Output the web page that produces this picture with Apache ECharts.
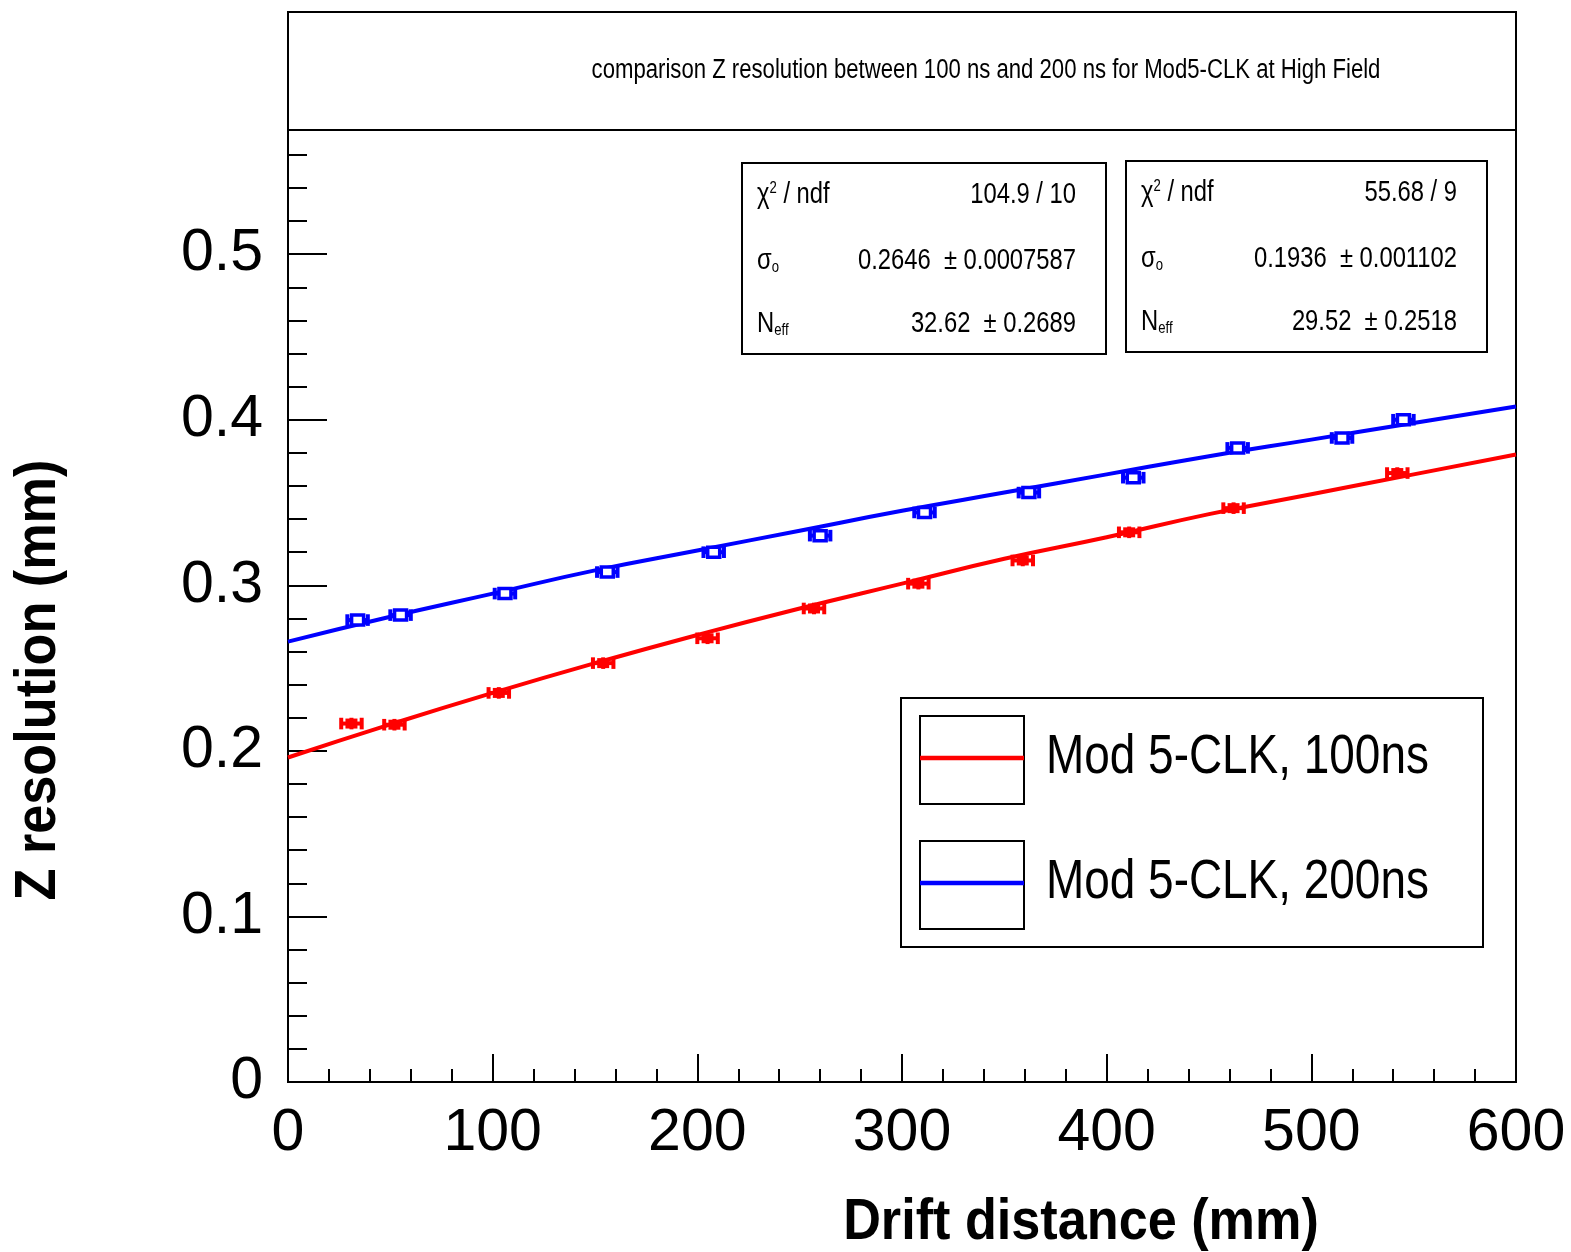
<!DOCTYPE html>
<html><head><meta charset="utf-8">
<script src="https://cdn.jsdelivr.net/npm/echarts@6/dist/echarts.min.js"></script>
<style>html,body{margin:0;padding:0;background:#fff}#c{width:1571px;height:1252px}</style>
</head><body><div id="c"></div>
<script>
// ---------- data ----------
const titleText = 'comparison Z resolution between 100 ns and 200 ns for Mod5-CLK at High Field';
const xAxisTitle = 'Drift distance (mm)';
const yAxisTitle = 'Z resolution (mm)';
const seriesNames = ['Mod 5-CLK, 100ns', 'Mod 5-CLK, 200ns'];
const xTickLabels = ['0', '100', '200', '300', '400', '500', '600'];
const yTickLabels = ['0', '0.1', '0.2', '0.3', '0.4', '0.5'];

// 100 ns (red) measured points
const redX    = [31, 52, 103, 154, 205, 257, 308, 359, 411, 462, 542];
const redY    = [0.2165, 0.2158, 0.2350, 0.2530, 0.2680, 0.2860, 0.3010, 0.3150, 0.3320, 0.3466, 0.3678];
const redXErr = [5, 5, 5, 5, 5, 5, 5, 5, 5, 5, 5];
const redYErr = [0.0035, 0.0035, 0.0035, 0.0035, 0.0035, 0.0035, 0.0035, 0.0035, 0.0035, 0.0035, 0.0035];

// 200 ns (blue) measured points
const blueX    = [34, 55, 106, 156, 208, 260, 311, 362, 413, 464, 515, 545];
const blueY    = [0.2790, 0.2820, 0.2950, 0.3080, 0.3200, 0.3300, 0.3440, 0.3560, 0.3650, 0.3830, 0.3890, 0.4000];
const blueXErr = [5, 5, 5, 5, 5, 5, 5, 5, 5, 5, 5, 5];
const blueYErr = [0.0035, 0.0035, 0.0035, 0.0035, 0.0035, 0.0035, 0.0035, 0.0035, 0.0035, 0.0035, 0.0035, 0.0035];

// fit curves
const fitX    = [0, 50, 100, 150, 200, 250, 300, 350, 400, 450, 500, 550, 600];
const redFit  = [0.196, 0.216, 0.235, 0.253, 0.270, 0.286, 0.301, 0.316, 0.329, 0.343, 0.355, 0.367, 0.379];
const blueFit = [0.266, 0.281, 0.295, 0.309, 0.321, 0.333, 0.345, 0.356, 0.367, 0.378, 0.388, 0.398, 0.408];

// fit statistics boxes
const statsBlue = ['104.9 / 10', '0.2646  \u00b1 0.0007587', '32.62  \u00b1 0.2689'];
const statsRed  = ['55.68 / 9', '0.1936  \u00b1 0.001102', '29.52  \u00b1 0.2518'];

// ---------- chart ----------
const FONT = "'Liberation Sans',Arial,Helvetica,sans-serif";
const NARROW = 0.82;
const RED = '#ff0000', BLUE = '#0000ff';

function pts(xs, ys, exs, eys) { return xs.map((x, i) => [x, ys[i], exs[i], eys[i]]); }
function curve(xs, ys) { return xs.map((x, i) => [x, ys[i]]); }

function errRender(color, hollow) {
  return function (params, api) {
    const x = api.value(0), y = api.value(1), ex = api.value(2), ey = api.value(3);
    const c = api.coord([x, y]);
    const l = api.coord([x - ex, y]);
    const r = api.coord([x + ex, y]);
    const t = api.coord([x, y + ey]);
    const b = api.coord([x, y - ey]);
    const st = { stroke: color, lineWidth: 4, fill: null };
    const children = [
      { type: 'line', shape: { x1: l[0], y1: c[1], x2: r[0], y2: c[1] }, style: st },
      { type: 'line', shape: { x1: l[0], y1: t[1], x2: l[0], y2: b[1] }, style: st },
      { type: 'line', shape: { x1: r[0], y1: t[1], x2: r[0], y2: b[1] }, style: st },
      { type: 'line', shape: { x1: c[0], y1: t[1], x2: c[0], y2: b[1] }, style: st },
      { type: 'rect', shape: { x: c[0] - 6, y: c[1] - 5, width: 12, height: 10 },
        style: hollow ? { stroke: color, lineWidth: 3.5, fill: '#fff' } : { fill: color } }
    ];
    return { type: 'group', children: children };
  };
}

function txt(x, y, text, size, align, extra, sx) {
  const o = { type: 'text', x: x, y: y, z: 12, scaleX: sx || NARROW,
    style: Object.assign({ text: text, fontSize: size, fontFamily: FONT, fill: '#000',
      align: align, verticalAlign: 'middle' }, extra || {}) };
  return o;
}

function statsBox(x, y, w, h, vals) {
  const rows = [32, 98, 161];
  const labels = ['\u03c7{sup|2} / ndf', '\u03c3{sub|o}', 'N{sub|eff}'];
  const rich = {
    sup: { fontSize: 16, fontFamily: FONT, verticalAlign: 'top', padding: [0, 0, 12, 0], fill: '#000' },
    sub: { fontSize: 16, fontFamily: FONT, padding: [14, 0, 0, 0], fill: '#000' }
  };
  const els = [{ type: 'rect', shape: { x: x, y: y, width: w, height: h },
    style: { fill: '#fff', stroke: '#000', lineWidth: 2 }, z: 10 }];
  rows.forEach((ry, i) => {
    els.push(txt(x + 15, y + ry, labels[i], 29, 'left', { rich: rich }));
    els.push(txt(x + w - 30, y + ry, vals[i], 29, 'right'));
  });
  return els;
}

function legendEntry(y, color, name) {
  return [
    { type: 'rect', shape: { x: 920, y: y - 42, width: 104, height: 88 },
      style: { fill: '#fff', stroke: '#000', lineWidth: 2 }, z: 11 },
    { type: 'line', shape: { x1: 920, y1: y, x2: 1024, y2: y },
      style: { stroke: color, lineWidth: 4.5 }, z: 12 },
    txt(1046, y, name, 56, 'left')
  ];
}

const yTitle = txt(39, 680, yAxisTitle, 58, 'center', { fontWeight: 'bold' }, 0.9);
yTitle.rotation = Math.PI / 2;

const graphics = [
  { type: 'rect', shape: { x: 288, y: 12, width: 1228, height: 118 },
    style: { fill: '#fff', stroke: '#000', lineWidth: 2 }, z: 10 },
  txt(986, 71, titleText, 27, 'center'),
  txt(1081, 1223, xAxisTitle, 58, 'center', { fontWeight: 'bold' }, 0.9),
  yTitle,
  { type: 'rect', shape: { x: 901, y: 698, width: 582, height: 249 },
    style: { fill: '#fff', stroke: '#000', lineWidth: 2 }, z: 10 }
].concat(statsBox(742, 163, 364, 191, statsBlue))
 .concat(statsBox(1126, 161, 361, 191, statsRed))
 .concat(legendEntry(758, RED, seriesNames[0]))
 .concat(legendEntry(883, BLUE, seriesNames[1]));

const chart = echarts.init(document.getElementById('c'), null, { renderer: 'canvas' });
chart.setOption({
  animation: false,
  backgroundColor: '#fff',
  grid: { left: 288, top: 130, width: 1228, height: 952, show: true,
          borderColor: '#000', borderWidth: 2, backgroundColor: '#fff',
          containLabel: false, outerBoundsMode: 'none' },
  xAxis: {
    type: 'value', min: 0, max: 600, interval: 100,
    axisLine: { show: true, lineStyle: { color: '#000', width: 2 } },
    axisTick: { show: true, inside: true, length: 28, lineStyle: { color: '#000', width: 2 } },
    minorTick: { show: true, splitNumber: 5, length: 13, lineStyle: { color: '#000', width: 2 } },
    axisLabel: { fontSize: 59, fontFamily: FONT, color: '#000', margin: 22,
                 formatter: v => xTickLabels[Math.round(v / 100)] || '' },
    splitLine: { show: false }
  },
  yAxis: [{
    type: 'value', min: 0, max: 0.575, interval: 0.02, position: 'left',
    axisLine: { show: true, lineStyle: { color: '#000', width: 2 } },
    axisTick: { show: true, inside: true, length: 19, lineStyle: { color: '#000', width: 2 } },
    axisLabel: { show: false },
    splitLine: { show: false }
  }, {
    type: 'value', min: 0, max: 0.575, interval: 0.1, position: 'left', offset: 0,
    axisLine: { show: true, lineStyle: { color: '#000', width: 2 } },
    axisTick: { show: true, inside: true, length: 39, lineStyle: { color: '#000', width: 2 } },
    axisLabel: { fontSize: 59, fontFamily: FONT, color: '#000', margin: 25, showMaxLabel: false,
                 formatter: v => yTickLabels[Math.round(v * 10)] || '' },
    splitLine: { show: false }
  }],
  series: [
    { name: seriesNames[0] + ' fit', type: 'line', data: curve(fitX, redFit), smooth: true,
      showSymbol: false, lineStyle: { color: RED, width: 4 }, z: 3, silent: true },
    { name: seriesNames[1] + ' fit', type: 'line', data: curve(fitX, blueFit), smooth: true,
      showSymbol: false, lineStyle: { color: BLUE, width: 4 }, z: 3, silent: true },
    { name: seriesNames[0], type: 'custom', data: pts(redX, redY, redXErr, redYErr),
      renderItem: errRender(RED, false), z: 4 },
    { name: seriesNames[1], type: 'custom', data: pts(blueX, blueY, blueXErr, blueYErr),
      renderItem: errRender(BLUE, true), z: 4 }
  ],
  graphic: graphics
});
</script>
</body></html>
